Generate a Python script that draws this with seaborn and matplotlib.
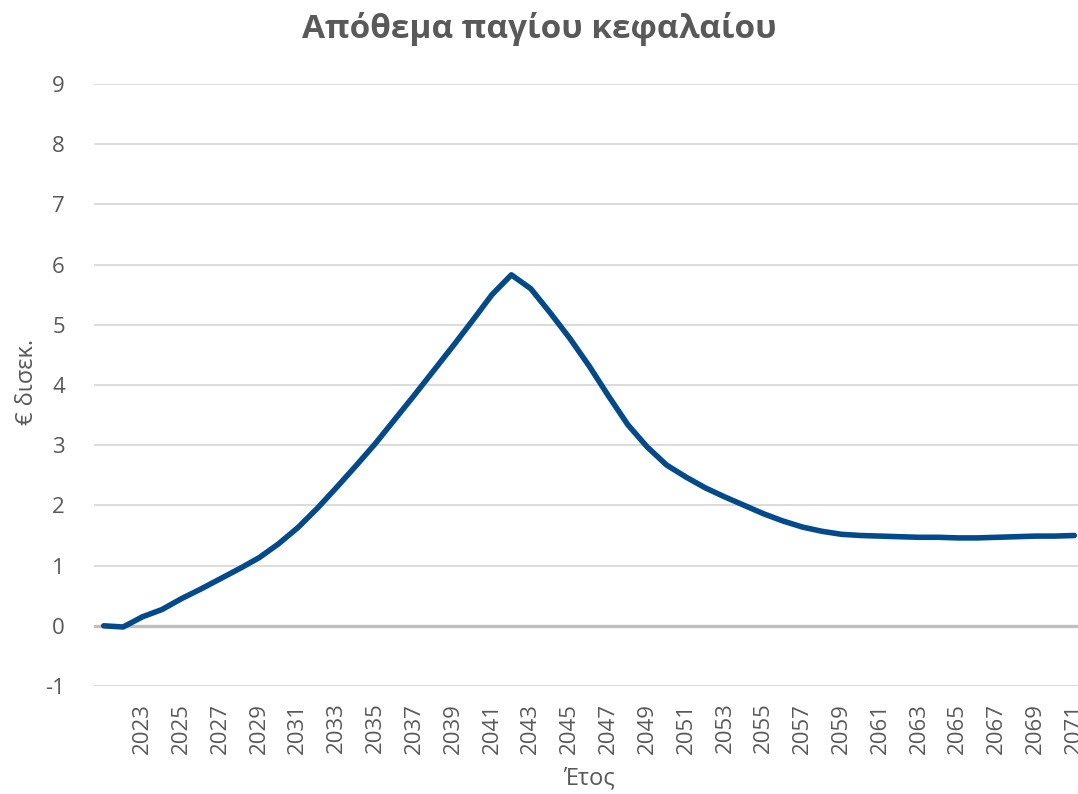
import matplotlib
matplotlib.use("Agg")
import matplotlib.pyplot as plt
import seaborn as sns
import pandas as pd
import numpy as np

years = list(range(2021, 2072))
values = [0.00, -0.02, 0.15, 0.27, 0.45, 0.61, 0.78, 0.95, 1.13, 1.36,
          1.63, 1.95, 2.30, 2.66, 3.03, 3.43, 3.83, 4.24, 4.65, 5.07,
          5.50, 5.83, 5.60, 5.20, 4.78, 4.32, 3.82, 3.34, 2.97, 2.67,
          2.47, 2.29, 2.14, 2.00, 1.86, 1.74, 1.64, 1.57, 1.52, 1.50,
          1.49, 1.48, 1.47, 1.47, 1.46, 1.46, 1.47, 1.48, 1.49, 1.49, 1.50]
tick_years = list(range(2023, 2072, 2))
y_ticks = list(range(-1, 10))

title = "Απόθεμα παγίου κεφαλαίου"
ylabel = "€ δισεκ."
xlabel = "Έτος"

sns.set_theme(style="white")
plt.rcParams['font.family'] = ['Open Sans', 'DejaVu Sans']

df = pd.DataFrame({"year": years, "value": values})

fig = plt.figure(figsize=(10.78, 7.94), dpi=100)
ax = fig.add_axes([94/1078, 108/794, 990/1078, 602/794])

grey = "#595959"
for v in y_ticks:
    if v != 0:
        ax.axhline(v, color="#d9d9d9", lw=1.3, zorder=0)
ax.axhline(0, color="#bfbfbf", lw=2.4, zorder=1)

sns.lineplot(data=df, x="year", y="value", ax=ax, color="#024a8c", lw=4, zorder=3,
             solid_capstyle="round", solid_joinstyle="round")

ax.set_xlim(2020.5, 2071.5)
ax.set_ylim(-1, 9)
ax.set_yticks(y_ticks)
ax.set_yticklabels([str(v) for v in y_ticks])
ax.set_xticks(tick_years)
ax.set_xticklabels([str(t) for t in tick_years], rotation=90)
ax.tick_params(axis="both", length=0, labelsize=16, colors=grey)
ax.tick_params(axis="y", pad=21)
ax.tick_params(axis="x", pad=12)
for s in ax.spines.values():
    s.set_visible(False)

ax.set_xlabel(xlabel, fontsize=17, color=grey)
ax.xaxis.set_label_coords(0.5, -(778 - 686) / 602, transform=ax.transAxes)
ax.xaxis.label.set_va("center")
ax.set_ylabel(ylabel, fontsize=17, color=grey)
ax.yaxis.set_label_coords(-(94 - 27) / 990, (626 - 382 + 0) / 602 + (686 - 626) / 602 - 0.0)
ax.yaxis.label.set_va("center")
fig.text(0.5, 1 - 29/794, title, ha="center", va="center", fontsize=24,
         fontweight="bold", color=grey)

fig.savefig("out.png", dpi=100)
